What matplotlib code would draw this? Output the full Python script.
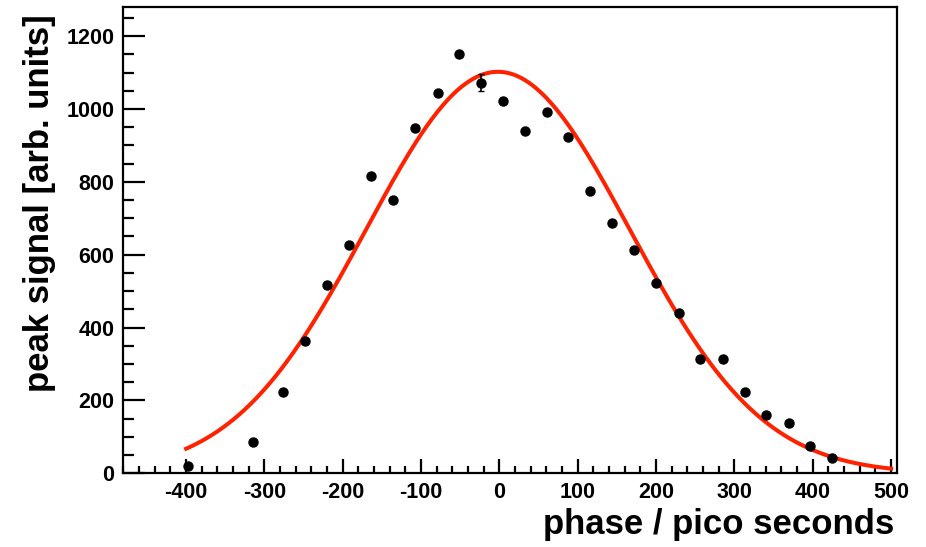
import matplotlib.pyplot as plt
import numpy as np

plt.rcParams['font.family'] = ['Liberation Sans', 'DejaVu Sans']
plt.rcParams['font.weight'] = 'bold'
plt.rcParams['axes.unicode_minus'] = False

# measured points (phase in ps, peak signal)
phase = [-398, -315, -276, -248, -220, -192, -164, -136, -108, -79, -52, -24, 5,
         32, 61, 88, 116, 144, 172, 200, 229, 256, 285, 313, 340, 369, 396, 424]
signal = [20, 86, 223, 362, 518, 627, 816, 749, 948, 1043, 1150, 1072, 1021,
          939, 993, 924, 776, 688, 614, 523, 439, 314, 315, 222, 160, 138, 76, 43]
err = [0]*11 + [23] + [0]*16

# gaussian fit parameters
amp = 1102
mean = -2
sigma = 168.5
fit_range = (-400, 500)

fig = plt.figure(figsize=(9.26, 5.47), dpi=100)
ax = fig.add_axes([0.1325, 0.1346, 0.8358, 0.8521])

xf = np.linspace(fit_range[0], fit_range[1], 400)
ax.plot(xf, amp*np.exp(-(xf-mean)**2/(2*sigma**2)), color='#ff2200', lw=2.9, zorder=2)
ax.errorbar(phase, signal, yerr=err, fmt='o', color='black', ms=6.5,
            elinewidth=1.2, capsize=2.5, zorder=3)

ax.set_xlim(-481, 507)
ax.set_ylim(0, 1279)
ax.set_xticks(range(-400, 501, 100))
ax.set_xticks(range(-480, 507, 20), minor=True)
ax.set_yticks(range(0, 1201, 200))
ax.set_yticks(range(0, 1279, 50), minor=True)

ax.tick_params(axis='x', which='major', direction='in', length=10, width=1.6, labelsize=15.5, pad=6)
ax.tick_params(axis='x', which='minor', direction='in', length=5, width=1.6)
ax.tick_params(axis='y', which='major', direction='in', length=16, width=1.6, labelsize=15.5, pad=6)
ax.tick_params(axis='y', which='minor', direction='in', length=8, width=1.6)
for s in ax.spines.values():
    s.set_linewidth(1.6)

ax.set_xlabel('phase / pico seconds', fontsize=25, fontweight='bold')
ax.xaxis.set_label_coords(0.997, -0.11)
ax.xaxis.label.set_horizontalalignment('right')
ax.xaxis.label.set_verticalalignment('center')
ax.set_ylabel('peak signal [arb. units]', fontsize=25, fontweight='bold')
ax.yaxis.set_label_coords(-0.107, 0.985)
ax.yaxis.label.set_verticalalignment('center')
ax.yaxis.label.set_horizontalalignment('right')

fig.savefig('out.png', dpi=100)
